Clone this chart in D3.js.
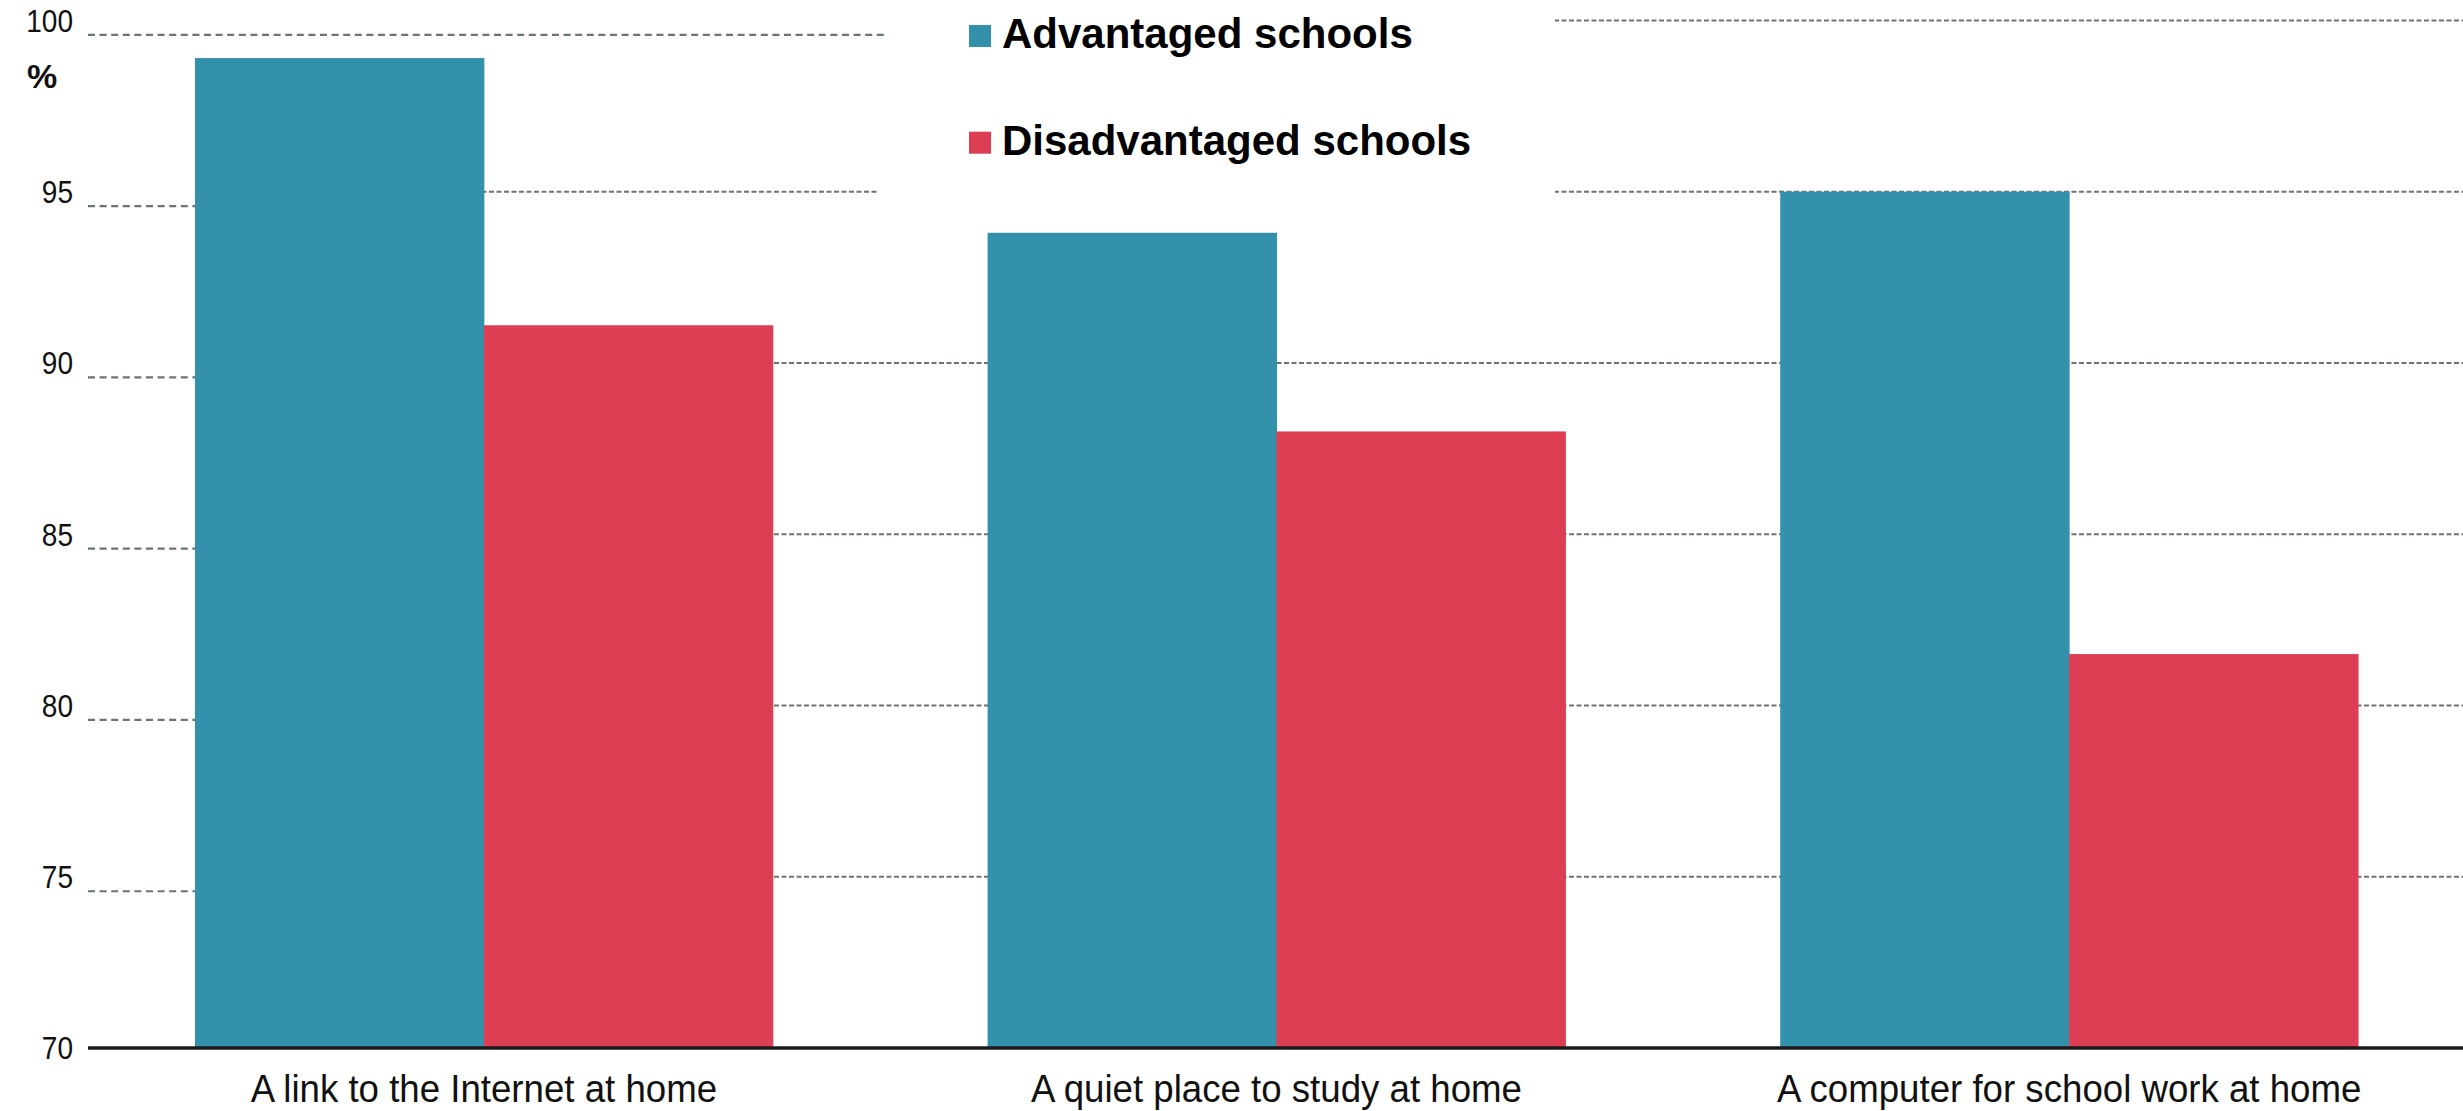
<!DOCTYPE html>
<html>
<head>
<meta charset="utf-8">
<script src="https://cdn.jsdelivr.net/npm/d3@7"></script>
<style>
  html, body { margin: 0; padding: 0; background: #ffffff; }
  svg { display: block; font-family: "Liberation Sans", Arial, sans-serif; }
</style>
</head>
<body>
<svg id="chart" width="2463" height="1111"></svg>
<script>
// Share of students with each home resource, by school type (%)
const categories = [
  "A link to the Internet at home",
  "A quiet place to study at home",
  "A computer for school work at home"
];
const seriesNames = ["Advantaged schools", "Disadvantaged schools"];
const advantaged = [98.9, 93.8, 95.0];
const disadvantaged = [91.1, 88.0, 81.5];
const yTicks = [70, 75, 80, 85, 90, 95, 100];
const seriesColors = ["#3391ac", "#de3e54"];

const chartW = 2463;
const plotLeft = 90, plotRight = chartW, plotTop = 20.4, plotBottom = 1048;

const svg = d3.select("#chart");

const x = d3.scaleBand()
  .domain(categories)
  .range([plotLeft, plotRight])
  .paddingInner(0.271)
  .paddingOuter(0.1324);

const xs = d3.scaleBand()
  .domain(seriesNames)
  .range([0, x.bandwidth()])
  .padding(0);

const y = d3.scaleLinear().domain([70, 100]).range([plotBottom, plotTop]);

const gridColor = "#6b756f";

// horizontal dashed gridlines across the plot
svg.append("g").attr("class", "grid")
  .selectAll("line")
  .data(yTicks.filter(t => t > 70))
  .join("line")
  .attr("x1", 204).attr("x2", plotRight)
  .attr("y1", d => y(d)).attr("y2", d => y(d))
  .attr("stroke", gridColor)
  .attr("stroke-width", 2)
  .attr("stroke-dasharray", "5,2.5");

// white panel behind the legend
svg.append("rect").attr("x", 88).attr("y", 0).attr("width", 1555 - 88).attr("height", 29).attr("fill", "#fff");
svg.append("rect").attr("x", 878).attr("y", 0).attr("width", 1555 - 878).attr("height", 250).attr("fill", "#fff");

// short dashed tick marks beside the value labels
const tickShift = 14.5;
svg.append("g").attr("class", "ticks")
  .selectAll("line")
  .data(yTicks.filter(t => t > 70))
  .join("line")
  .attr("x1", 88)
  .attr("x2", d => d === 100 ? 886 : 204)
  .attr("y1", d => y(d) + tickShift).attr("y2", d => y(d) + tickShift)
  .attr("stroke", gridColor)
  .attr("stroke-width", 2.2)
  .attr("stroke-dasharray", "7,4.6");

// bars
const rows = categories.map((c, i) => ({
  category: c,
  values: [
    { key: seriesNames[0], value: advantaged[i], color: seriesColors[0] },
    { key: seriesNames[1], value: disadvantaged[i], color: seriesColors[1] }
  ]
}));

svg.append("g").attr("class", "bars")
  .selectAll("g")
  .data(rows)
  .join("g")
  .attr("transform", d => `translate(${x(d.category)},0)`)
  .selectAll("rect")
  .data(d => d.values)
  .join("rect")
  .attr("x", d => xs(d.key))
  .attr("width", xs.bandwidth() + 0.5)
  .attr("y", d => y(d.value))
  .attr("height", d => y(70) - y(d.value))
  .attr("fill", d => d.color);

// value axis labels (slightly condensed type)
const yAxis = svg.append("g")
  .attr("transform", `translate(73,0)`)
  .call(d3.axisLeft(y).tickValues(yTicks).tickSize(0).tickPadding(0).tickFormat(d3.format("d")));
yAxis.select(".domain").remove();
yAxis.selectAll("text")
  .attr("font-family", "'Liberation Sans', Arial, sans-serif")
  .attr("font-size", 30.5)
  .attr("fill", "#111")
  .attr("dy", "0.36em")
  .attr("transform", "scale(0.92,1)");

svg.append("text")
  .attr("x", 27).attr("y", 88)
  .attr("text-anchor", "start")
  .attr("font-size", 34)
  .attr("font-weight", "bold")
  .attr("fill", "#111")
  .text("%");

// category axis
const xAxis = svg.append("g")
  .attr("transform", `translate(0,${plotBottom})`)
  .call(d3.axisBottom(x).tickSize(0).tickPadding(0));
xAxis.select(".domain")
  .attr("d", `M88,0H${plotRight}`)
  .attr("stroke", "#1a1a1a")
  .attr("stroke-width", 3.4);
xAxis.selectAll("text")
  .attr("font-family", "'Liberation Sans', Arial, sans-serif")
  .attr("font-size", 39)
  .attr("fill", "#111")
  .attr("dy", 0)
  .attr("y", 54)
  .attr("transform", "scale(0.94,1)");

// legend
const legend = svg.append("g").attr("class", "legend")
  .selectAll("g")
  .data(seriesNames)
  .join("g")
  .attr("transform", (d, i) => `translate(969,${25 + i * 106.7})`);
legend.append("rect")
  .attr("width", 22).attr("height", 22)
  .attr("fill", (d, i) => seriesColors[i]);
legend.append("text")
  .attr("x", 33).attr("y", 23.3)
  .attr("font-size", 42)
  .attr("font-weight", "bold")
  .attr("fill", "#000")
  .text(d => d);
</script>
</body>
</html>
